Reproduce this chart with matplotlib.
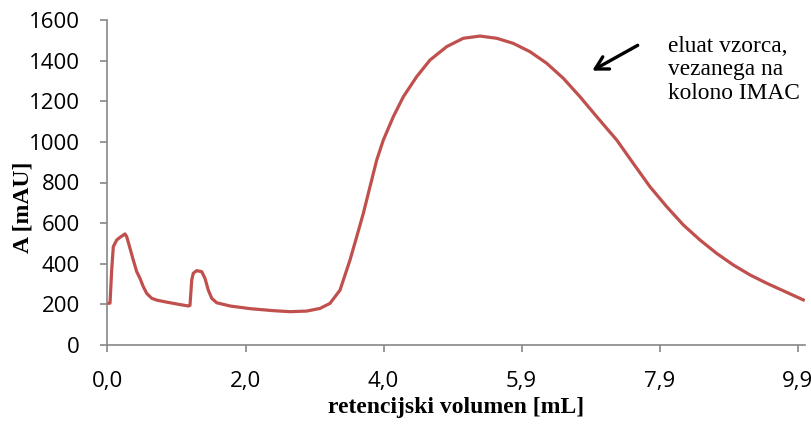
import matplotlib
matplotlib.use("Agg")
import matplotlib.pyplot as plt

# data
volume_ml = [0.00, 0.036, 0.060, 0.083, 0.132, 0.179, 0.226, 0.250, 0.275, 0.322,
             0.369, 0.418, 0.465, 0.512, 0.561, 0.632, 0.704, 0.847, 0.990, 1.156,
             1.180, 1.205, 1.227, 1.276, 1.348, 1.395, 1.442, 1.491, 1.562, 1.753,
             2.039, 2.372, 2.611, 2.850, 3.040, 3.183, 3.326, 3.469, 3.565, 3.660,
             3.755, 3.851, 3.946, 4.089, 4.232, 4.423, 4.614, 4.853, 5.090, 5.329,
             5.568, 5.805, 6.044, 6.283, 6.521, 6.760, 6.999, 7.285, 7.522, 7.761,
             8.000, 8.238, 8.476, 8.715, 8.953, 9.192, 9.431, 9.668, 9.954]
absorbance = [205, 206, 369, 484, 517, 530, 541, 547, 533, 476,
              418, 361, 328, 287, 254, 230, 221, 211, 202, 192,
              195, 320, 353, 366, 361, 328, 270, 230, 208, 192,
              179, 169, 164, 167, 180, 205, 270, 418, 533, 648,
              779, 910, 1009, 1124, 1222, 1321, 1403, 1469, 1510, 1521,
              1510, 1485, 1444, 1387, 1313, 1222, 1124, 1009, 894, 779,
              681, 591, 517, 451, 394, 345, 304, 267, 222]

x_tick_pos = [0.0, 1.975, 3.95, 5.925, 7.9, 9.875]
x_tick_labels = ["0,0", "2,0", "4,0", "5,9", "7,9", "9,9"]
y_ticks = [0, 200, 400, 600, 800, 1000, 1200, 1400, 1600]

fig = plt.figure(figsize=(8.12, 4.25), dpi=100)
ax = fig.add_axes([107.5 / 812, 1 - 345 / 425, (805 - 107.5) / 812, 325 / 425])

ax.plot(volume_ml, absorbance, color="#C0504D", linewidth=2.3, solid_joinstyle="round")

ax.set_xlim(0, (805 - 107.5) / 69.9)
ax.set_ylim(0, 1600)
ax.set_xticks(x_tick_pos)
ax.set_xticklabels(x_tick_labels)
ax.set_yticks(y_ticks)

for s in ["top", "right"]:
    ax.spines[s].set_visible(False)
for s in ["left", "bottom"]:
    ax.spines[s].set_color("#868686")
    ax.spines[s].set_linewidth(1.2)
ax.tick_params(axis="both", direction="out", length=5, width=1.2, color="#868686",
               labelsize=16, labelcolor="black")
ax.tick_params(axis="x", pad=14)
ax.tick_params(axis="y", pad=15)
for lab in ax.get_xticklabels() + ax.get_yticklabels():
    lab.set_fontfamily("Open Sans")

ax.set_xlabel("retencijski volumen [mL]", fontfamily="Liberation Serif",
              fontweight="bold", fontsize=17)
ax.set_ylabel("A [mAU]", fontfamily="Liberation Serif", fontweight="bold",
              fontsize=17)
ax.xaxis.set_label_coords(0.5, (345 - 397) / 325)
ax.yaxis.set_label_coords((34 - 107.5) / 697.5, 0.425)

ax.annotate("", xy=(6.90, 1344), xytext=(7.62, 1482),
            arrowprops=dict(arrowstyle="->,head_length=0.9,head_width=0.5",
                            color="black", lw=2.4))
ax.text(8.02, 1354, "eluat vzorca,\nvezanega na\nkolono IMAC",
        fontfamily="Liberation Serif", fontsize=16.8, va="center", ha="left",
        linespacing=1.15)

fig.savefig("out.png", dpi=100)
